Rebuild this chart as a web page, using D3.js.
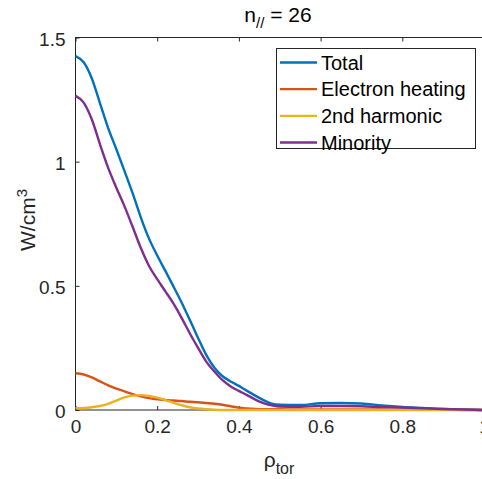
<!DOCTYPE html>
<html>
<head>
<meta charset="utf-8">
<script src="https://cdn.jsdelivr.net/npm/d3@7"></script>
<style>
  body { margin: 0; background: #fff; }
  svg { display: block; font-family: "Liberation Sans", Arial, sans-serif; }
</style>
</head>
<body>
<div id="chart"></div>
<script>
// rho_tor grid shared by all series
const rho = [0, 0.02, 0.04, 0.06, 0.08, 0.10, 0.12, 0.14, 0.16, 0.18, 0.20, 0.22, 0.24,
  0.26, 0.28, 0.30, 0.32, 0.34, 0.36, 0.38, 0.40, 0.42, 0.44, 0.46, 0.48, 0.50,
  0.55, 0.60, 0.65, 0.70, 0.75, 0.80, 0.85, 0.90, 0.95, 1.0];

const total = [1.425, 1.400, 1.335, 1.235, 1.135, 1.050, 0.962, 0.872, 0.775, 0.690, 0.622, 0.560, 0.497,
  0.432, 0.362, 0.290, 0.222, 0.170, 0.136, 0.115, 0.097, 0.077, 0.058, 0.040, 0.026, 0.021,
  0.020, 0.027, 0.028, 0.026, 0.018, 0.012, 0.008, 0.004, 0.002, 0.0];

const electron = [0.148, 0.143, 0.131, 0.115, 0.099, 0.086, 0.075, 0.064, 0.055, 0.048, 0.043, 0.040, 0.038,
  0.036, 0.033, 0.031, 0.028, 0.025, 0.021, 0.015, 0.009, 0.006, 0.004, 0.003, 0.003, 0.003,
  0.002, 0.002, 0.002, 0.002, 0.002, 0.001, 0.001, 0.001, 0.0, 0.0];

const harmonic2 = [0.007, 0.008, 0.011, 0.016, 0.025, 0.038, 0.051, 0.058, 0.060, 0.057, 0.050, 0.040, 0.029,
  0.019, 0.011, 0.006, 0.003, 0.001, 0.0, 0.0, 0.0, 0.0, 0.0, 0.0, 0.0, 0.0,
  0.0, 0.0, 0.0, 0.0, 0.0, 0.0, 0.0, 0.0, 0.0, 0.0];

const minority = [1.265, 1.238, 1.170, 1.070, 0.975, 0.895, 0.820, 0.737, 0.652, 0.580, 0.527, 0.478, 0.428,
  0.370, 0.308, 0.250, 0.195, 0.155, 0.120, 0.095, 0.077, 0.060, 0.042, 0.028, 0.019, 0.014,
  0.013, 0.016, 0.016, 0.015, 0.012, 0.010, 0.007, 0.004, 0.002, 0.0];

const seriesNames = ['Total', 'Electron heating', '2nd harmonic', 'Minority'];
const seriesValues = [total, electron, harmonic2, minority];
const colors = ['#0072BD', '#D95319', '#EDB120', '#7E2F8E'];

const xTicks = [0, 0.2, 0.4, 0.6, 0.8, 1];
const yTicks = [0, 0.5, 1, 1.5];

const W = 482, H = 479;
const margin = { top: 37.5, left: 75.5 };
const plotW = 408.5, plotH = 372.5;
const axisColor = '#262626';

const svg = d3.select('#chart').append('svg')
    .attr('width', W)
    .attr('height', H);

const x = d3.scaleLinear().domain([0, 1]).range([margin.left, margin.left + plotW]);
const y = d3.scaleLinear().domain([0, 1.5]).range([margin.top + plotH, margin.top]);

// x ticks (inward, bottom and top) + labels
svg.append('g')
    .attr('transform', `translate(0, ${margin.top + plotH})`)
    .call(d3.axisBottom(x).tickValues(xTicks).tickSizeInner(-4).tickSizeOuter(0).tickPadding(10)
      .tickFormat(d => d === 0 ? '0' : d === 1 ? '1' : d3.format('.1f')(d)))
    .call(g => g.select('.domain').remove())
    .call(g => g.selectAll('line').attr('stroke', axisColor))
    .call(g => g.selectAll('text').attr('fill', axisColor).style('font-size', '19px'));

svg.append('g')
    .attr('transform', `translate(0, ${margin.top})`)
    .call(d3.axisTop(x).tickValues(xTicks).tickSizeInner(-4).tickSizeOuter(0).tickFormat(''))
    .call(g => g.select('.domain').remove())
    .call(g => g.selectAll('line').attr('stroke', axisColor));

// y ticks (inward) + labels
svg.append('g')
    .attr('transform', `translate(${margin.left}, 0)`)
    .call(d3.axisLeft(y).tickValues(yTicks).tickSizeInner(-4).tickSizeOuter(0).tickPadding(10)
      .tickFormat(d => d3.format('')(d)))
    .call(g => g.select('.domain').remove())
    .call(g => g.selectAll('line').attr('stroke', axisColor))
    .call(g => g.selectAll('text').attr('fill', axisColor).attr('dy', '0.42em').style('font-size', '19px'));

// axes box
svg.append('rect')
    .attr('x', margin.left)
    .attr('y', margin.top)
    .attr('width', plotW)
    .attr('height', plotH)
    .attr('fill', 'none')
    .attr('stroke', axisColor)
    .attr('stroke-width', 1);

// lines
const line = d3.line()
    .x((d, i) => x(rho[i]))
    .y(d => y(d))
    .curve(d3.curveMonotoneX);

svg.append('g')
    .selectAll('path')
    .data(seriesValues)
    .enter().append('path')
      .attr('d', d => line(d))
      .attr('fill', 'none')
      .attr('stroke', (d, i) => colors[i])
      .attr('stroke-width', 2.4)
      .attr('stroke-linejoin', 'round');

// title
const title = svg.append('text')
    .attr('x', 278)
    .attr('y', 22)
    .attr('text-anchor', 'middle')
    .attr('fill', '#000')
    .style('font-size', '21px');
title.append('tspan').text('n');
title.append('tspan').attr('dy', 6).style('font-size', '15px').text('//');
title.append('tspan').attr('dy', -6).text(' = 26');

// x label
const xl = svg.append('text')
    .attr('x', 279)
    .attr('y', 467)
    .attr('text-anchor', 'middle')
    .attr('fill', axisColor)
    .style('font-size', '21px');
xl.append('tspan').text('ρ');
xl.append('tspan').attr('dy', 7).style('font-size', '16px').text('tor');

// y label
const yl = svg.append('text')
    .attr('transform', 'translate(35, 220) rotate(-90)')
    .attr('text-anchor', 'middle')
    .attr('fill', axisColor)
    .style('font-size', '21px');
yl.append('tspan').text('W/cm');
yl.append('tspan').attr('dy', -8).style('font-size', '15px').text('3');

// legend
const legend = svg.append('g');
legend.append('rect')
    .attr('x', 276.5)
    .attr('y', 48.5)
    .attr('width', 199)
    .attr('height', 100)
    .attr('fill', '#fff')
    .attr('stroke', axisColor)
    .attr('stroke-width', 1);

const rowY = d3.scalePoint().domain(seriesNames).range([62.5, 142.5]);
const items = legend.selectAll('g.item')
    .data(seriesNames)
    .enter().append('g')
      .attr('class', 'item')
      .attr('transform', d => `translate(0, ${rowY(d)})`);
items.append('line')
    .attr('x1', 280).attr('x2', 317)
    .attr('stroke', (d, i) => colors[i])
    .attr('stroke-width', 2.4);
items.append('text')
    .attr('x', 321)
    .attr('dy', '0.36em')
    .attr('fill', '#000')
    .style('font-size', '20px')
    .text(d => d);
</script>
</body>
</html>
